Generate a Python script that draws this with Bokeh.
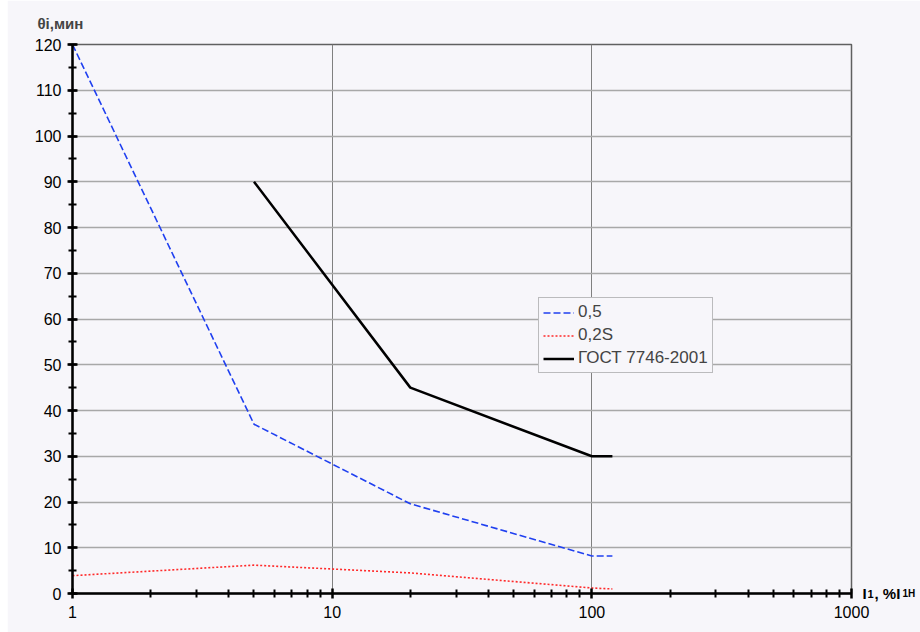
from bokeh.plotting import figure
from bokeh.models import (Range1d, SingleIntervalTicker, FixedTicker, NumeralTickFormatter,
                          Legend, LegendItem, LinearAxis, Title, Spacer)
from bokeh.layouts import row
from bokeh.embed import file_html
from bokeh.resources import INLINE

# Current, % of rated value
current = [1, 5, 20, 100, 120]
# Angular error limits, minutes
err_05 = [120, 37, 19.6, 8.2, 8.2]
err_02s = [3.9, 6.2, 4.5, 1.2, 1.0]
gost_current = [5, 20, 100, 120]
gost_limit = [90, 45, 30, 30]

series_names = ["0,5", "0,2S", "ГОСТ 7746-2001"]
x_ticks = [1, 10, 100, 1000]
x_minor = [m * d for d in (1, 10, 100) for m in range(2, 10)]

BG = "#f7f6fa"
FONT = "Liberation Sans"

p = figure(width=913, height=632, x_axis_type="log",
           x_range=Range1d(1, 1000), y_range=Range1d(0, 120),
           output_backend="svg", toolbar_location=None,
           min_border_left=65, min_border_right=69,
           min_border_top=44, min_border_bottom=39)
p.background_fill_color = BG
p.border_fill_color = BG
p.outline_line_color = "#606060"
p.outline_line_width = 1.5

# axes
p.yaxis.ticker = SingleIntervalTicker(interval=10, num_minor_ticks=2)
p.xaxis.ticker = FixedTicker(ticks=x_ticks, minor_ticks=x_minor)
p.xaxis.formatter = NumeralTickFormatter(format="0")
for ax in (p.xaxis, p.yaxis):
    ax.axis_line_color = "black"
    ax.axis_line_width = 2.5
    ax.major_tick_line_color = "black"
    ax.major_tick_line_width = 2.5
    ax.major_tick_in = 5
    ax.major_tick_out = 5
    ax.minor_tick_line_color = "black"
    ax.minor_tick_line_width = 2
    ax.minor_tick_in = 4
    ax.minor_tick_out = 4
    ax.major_label_text_font = FONT
    ax.major_label_text_font_size = "16px"
    ax.major_label_text_color = "black"
p.yaxis.major_label_standoff = 6
p.xaxis.major_label_standoff = 7

p.ygrid.grid_line_color = "#a8a8a8"
p.ygrid.grid_line_width = 1.5
p.xgrid.grid_line_color = "#808080"
p.xgrid.grid_line_width = 1

r05 = p.line(current, err_05, line_color="#2040f0", line_width=1.6, line_dash="7 3")
r02 = p.line(current, err_02s, line_color="#ff2a2a", line_width=1.6, line_dash="2 2")
rg = p.line(gost_current, gost_limit, line_color="black", line_width=2.5)

legend = Legend(items=[LegendItem(label=series_names[0], renderers=[r05]),
                       LegendItem(label=series_names[1], renderers=[r02]),
                       LegendItem(label=series_names[2], renderers=[rg])],
                location=(466, 220))
legend.label_text_font = FONT
legend.label_text_font_size = "17px"
legend.label_height = 19
legend.glyph_height = 19
legend.glyph_width = 31
legend.label_standoff = 4
legend.spacing = 3
legend.padding = 4
legend.margin = 0
legend.border_line_color = "#808080"
legend.border_line_width = 1.5
legend.background_fill_color = BG
legend.background_fill_alpha = 1
p.add_layout(legend)

# y title above the value axis
p.add_layout(Title(text="θi,мин", align="left", offset=-35, standoff=25,
                   text_font=FONT, text_font_style="bold", text_font_size="15px"), "above")

# x title at the right end of the current axis, built from pieces so the
# indices can be set smaller
pieces = [("I", "15px", 11),
          ("1", "11px", -2),
          (", %I", "15px", -2),
          ("1Н", "10px", -1)]
for txt, size, standoff in pieces:
    ax = LinearAxis(ticker=FixedTicker(ticks=[0]), major_label_overrides={0: txt})
    ax.axis_line_color = None
    ax.major_tick_line_color = None
    ax.minor_tick_line_color = None
    ax.major_tick_out = 0
    ax.major_tick_in = 0
    ax.major_label_standoff = standoff
    ax.major_label_text_font = FONT
    ax.major_label_text_font_style = "bold"
    ax.major_label_text_font_size = size
    ax.major_label_text_color = "black"
    p.add_layout(ax, "right")

layout = row(Spacer(width=7), p)
open("out.html", "w").write(file_html(layout, INLINE))
